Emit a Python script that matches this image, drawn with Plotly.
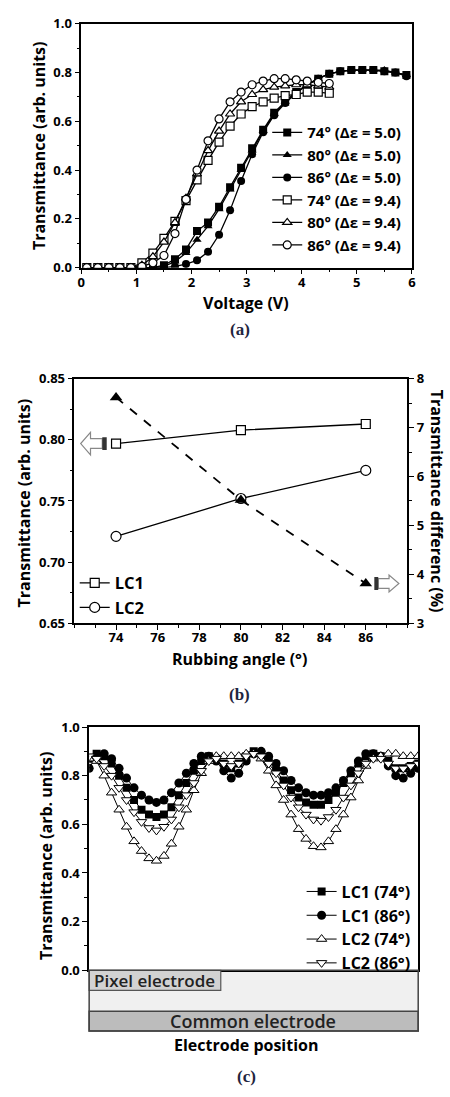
import plotly.graph_objects as go

W, H = 450, 1097

# ---------------- (a) Voltage-transmittance ----------------
volt_lc1 = [0.1, 0.3, 0.5, 0.7, 0.9, 1.1, 1.3, 1.5, 1.7, 1.9, 2.1, 2.3, 2.5, 2.7, 2.9,
            3.1, 3.3, 3.5, 3.7, 3.9, 4.1, 4.3, 4.5, 4.7, 4.9, 5.1, 5.3, 5.5, 5.7, 5.9]
t_74_de50 = [0, 0, 0, 0, 0, 0, 0, 0.01, 0.035, 0.075, 0.15, 0.185, 0.25, 0.33, 0.41,
             0.49, 0.565, 0.635, 0.68, 0.72, 0.75, 0.775, 0.795, 0.805, 0.81, 0.81, 0.81, 0.805, 0.80, 0.79]
t_80_de50 = [0, 0, 0, 0, 0, 0, 0, 0.005, 0.025, 0.06, 0.115, 0.17, 0.24, 0.32, 0.40,
             0.48, 0.56, 0.63, 0.68, 0.72, 0.75, 0.775, 0.795, 0.805, 0.81, 0.81, 0.81, 0.81, 0.80, 0.79]
t_86_de50 = [0, 0, 0, 0, 0, 0, 0, 0, 0.005, 0.015, 0.03, 0.065, 0.135, 0.235, 0.355,
             0.465, 0.555, 0.625, 0.675, 0.715, 0.75, 0.775, 0.795, 0.805, 0.81, 0.81, 0.81, 0.805, 0.80, 0.785]

volt_lc2 = [0.1, 0.3, 0.5, 0.7, 0.9, 1.1, 1.3, 1.5, 1.7, 1.9, 2.1, 2.3, 2.5, 2.7, 2.9,
            3.1, 3.3, 3.5, 3.7, 3.9, 4.1, 4.3, 4.5]
t_74_de94 = [0, 0, 0, 0, 0, 0.02, 0.06, 0.12, 0.19, 0.275, 0.36, 0.44, 0.515, 0.58, 0.63,
             0.66, 0.68, 0.695, 0.705, 0.71, 0.72, 0.72, 0.715]
t_80_de94 = [0, 0, 0, 0, 0, 0.01, 0.045, 0.105, 0.185, 0.285, 0.385, 0.48, 0.56, 0.63, 0.68,
             0.71, 0.73, 0.74, 0.745, 0.75, 0.75, 0.745, 0.74]
t_86_de94 = [0, 0, 0, 0, 0, 0.005, 0.02, 0.05, 0.14, 0.28, 0.40, 0.52, 0.61, 0.68, 0.72,
             0.75, 0.765, 0.775, 0.775, 0.77, 0.765, 0.76, 0.755]

# ---------------- (b) Rubbing angle ----------------
angles = [74, 80, 86]
lc1_trans = [0.797, 0.808, 0.813]
lc2_trans = [0.721, 0.752, 0.775]
trans_diff = [7.62, 5.52, 3.81]

# ---------------- (c) Electrode position ----------------
position = [0, 1, 2, 3, 4, 5, 6, 7, 8, 9, 10, 11, 12, 13, 14, 15, 16, 17, 18, 19, 20, 21, 22,
            23, 24, 25, 26, 27, 28, 29, 30, 31, 32, 33, 34, 35, 36, 37, 38, 39, 40, 41, 42, 43, 44]
lc1_74 = [0.87, 0.89, 0.88, 0.85, 0.80, 0.75, 0.70, 0.66, 0.64, 0.63, 0.64, 0.67, 0.72, 0.77, 0.82,
          0.86, 0.88, 0.87, 0.85, 0.83, 0.85, 0.88, 0.90, 0.89, 0.86, 0.82, 0.78, 0.74, 0.71, 0.69,
          0.68, 0.68, 0.70, 0.73, 0.77, 0.81, 0.85, 0.88, 0.89, 0.88, 0.86, 0.83, 0.83, 0.84, 0.85]
lc1_86 = [0.83, 0.88, 0.89, 0.87, 0.83, 0.79, 0.75, 0.72, 0.70, 0.69, 0.70, 0.73, 0.77, 0.81, 0.85,
          0.88, 0.88, 0.86, 0.82, 0.79, 0.81, 0.86, 0.89, 0.90, 0.88, 0.85, 0.82, 0.78, 0.75, 0.73,
          0.72, 0.72, 0.73, 0.75, 0.78, 0.82, 0.86, 0.89, 0.89, 0.88, 0.84, 0.80, 0.79, 0.81, 0.83]
lc2_74 = [0.87, 0.86, 0.80, 0.73, 0.66, 0.59, 0.53, 0.49, 0.46, 0.45, 0.47, 0.52, 0.59, 0.66, 0.74,
          0.81, 0.86, 0.88, 0.88, 0.88, 0.88, 0.89, 0.89, 0.87, 0.82, 0.76, 0.70, 0.64, 0.58, 0.54,
          0.51, 0.505, 0.53, 0.58, 0.64, 0.71, 0.78, 0.84, 0.87, 0.88, 0.89, 0.89, 0.88, 0.88, 0.88]
lc2_86 = [0.88, 0.87, 0.84, 0.80, 0.75, 0.70, 0.65, 0.61, 0.585, 0.575, 0.59, 0.62, 0.67, 0.72, 0.77,
          0.82, 0.86, 0.87, 0.85, 0.84, 0.85, 0.88, 0.89, 0.88, 0.85, 0.81, 0.76, 0.71, 0.67, 0.64,
          0.62, 0.615, 0.63, 0.66, 0.71, 0.76, 0.81, 0.85, 0.87, 0.87, 0.85, 0.83, 0.83, 0.84, 0.85]


def px(x):
    return x / W


def py(y):
    return 1 - y / H


BOLD = dict(family="Open Sans", color="black", weight="bold")
LINE = dict(color="black", width=1.3)

fig = go.Figure()

# (a) traces
filled = dict(color="black", size=8)
hollow = dict(color="white", size=8, line=dict(color="black", width=1.2))
for v, t, name, sym, mk in [
    (volt_lc1, t_74_de50, "74° (Δε = 5.0)", "square", filled),
    (volt_lc1, t_80_de50, "80° (Δε = 5.0)", "triangle-up", filled),
    (volt_lc1, t_86_de50, "86° (Δε = 5.0)", "circle", filled),
    (volt_lc2, t_74_de94, "74° (Δε = 9.4)", "square", hollow),
    (volt_lc2, t_80_de94, "80° (Δε = 9.4)", "triangle-up", hollow),
    (volt_lc2, t_86_de94, "86° (Δε = 9.4)", "circle", hollow),
]:
    fig.add_trace(go.Scatter(x=v, y=t, name=name, mode="lines+markers", line=LINE,
                             marker=dict(symbol=sym, **mk), xaxis="x", yaxis="y",
                             legend="legend"))

# (b) traces
fig.add_trace(go.Scatter(x=angles, y=lc1_trans, name="LC1", mode="lines+markers", line=LINE,
                         marker=dict(symbol="square", size=9, color="white",
                                     line=dict(color="black", width=1.2)),
                         xaxis="x2", yaxis="y2", legend="legend2"))
fig.add_trace(go.Scatter(x=angles, y=lc2_trans, name="LC2", mode="lines+markers", line=LINE,
                         marker=dict(symbol="circle", size=10, color="white",
                                     line=dict(color="black", width=1.2)),
                         xaxis="x2", yaxis="y2", legend="legend2"))
fig.add_trace(go.Scatter(x=angles, y=trans_diff, name="Transmittance difference",
                         mode="lines+markers", line=dict(color="black", width=1.8, dash="dash"),
                         marker=dict(symbol="triangle-up", size=11, color="black"),
                         xaxis="x2", yaxis="y3", showlegend=False))

# (c) traces
for y, name, sym, mk in [
    (lc1_74, "LC1 (74°)", "square", dict(color="black", size=8)),
    (lc1_86, "LC1 (86°)", "circle", dict(color="black", size=9)),
    (lc2_74, "LC2 (74°)", "triangle-up", dict(color="white", size=9, line=dict(color="black", width=1))),
    (lc2_86, "LC2 (86°)", "triangle-down", dict(color="white", size=9, line=dict(color="black", width=1))),
]:
    fig.add_trace(go.Scatter(x=position, y=y, name=name, mode="lines+markers",
                             line=dict(color="black", width=1),
                             marker=dict(symbol=sym, **mk), xaxis="x3", yaxis="y4",
                             legend="legend3"))

axis_common = dict(showline=True, linecolor="black", linewidth=1.5, mirror=True,
                   showgrid=False, zeroline=False, ticks="outside", ticklen=5, tickwidth=1.3,
                   tickcolor="black", tickfont=dict(size=13, **BOLD))

fig.update_layout(
    width=W, height=H, margin=dict(l=0, r=0, t=0, b=0),
    paper_bgcolor="white", plot_bgcolor="white",
    xaxis=dict(domain=[px(78.7), px(415.3)], range=[0, 6], dtick=1, anchor="y",
               ticklabelstandoff=-3,
               minor=dict(dtick=0.5, ticks="outside", ticklen=3, tickcolor="black"), **axis_common),
    yaxis=dict(domain=[py(263), py(15)], range=[0, 1], dtick=0.2, tickformat=".1f", anchor="x",
               minor=dict(dtick=0.1, ticks="outside", ticklen=3, tickcolor="black"), **axis_common),
    xaxis2=dict(domain=[px(71.7), px(410.7)], range=[72, 88], anchor="y2",
                tickvals=[74, 76, 78, 80, 82, 84, 86], ticklabelstandoff=-3,
                minor=dict(dtick=1, tick0=72, ticks="outside", ticklen=3, tickcolor="black"),
                **axis_common),
    yaxis2=dict(domain=[py(624.3), py(376)], range=[0.65, 0.85], dtick=0.05, tickformat=".2f",
                anchor="x2",
                minor=dict(dtick=0.025, ticks="outside", ticklen=3, tickcolor="black"),
                **axis_common),
    yaxis3=dict(overlaying="y2", side="right", range=[3, 8], dtick=1, anchor="x2",
                minor=dict(dtick=0.5, ticks="outside", ticklen=3, tickcolor="black"),
                **axis_common),
    xaxis3=dict(domain=[px(86.7), px(421.7)], range=[0, 44], anchor="y4",
                showline=True, linecolor="black", linewidth=1.8, mirror=True,
                showgrid=False, zeroline=False, showticklabels=False, ticks=""),
    yaxis4=dict(domain=[py(977.3), py(730)], range=[0, 1], anchor="x3",
                tickvals=[0, 0.2, 0.4, 0.6, 0.8, 1.0], tickformat=".1f",
                minor=dict(tickvals=[0.1, 0.3, 0.5, 0.7, 0.9], ticks="outside", ticklen=3,
                           tickcolor="black"),
                **axis_common),
    legend=dict(x=px(268), y=py(109), xanchor="left", yanchor="top",
                bgcolor="rgba(0,0,0,0)", font=dict(size=15, **BOLD), itemwidth=30,
                tracegroupgap=0),
    legend2=dict(x=px(72), y=py(566), xanchor="left", yanchor="top",
                 bgcolor="rgba(0,0,0,0)", font=dict(size=16.5, **BOLD), itemwidth=30),
    legend3=dict(x=px(303), y=py(880), xanchor="left", yanchor="top",
                 bgcolor="rgba(0,0,0,0)", font=dict(size=16, **BOLD), itemwidth=30),
)

# axis titles and panel labels
title_font = dict(size=16, **BOLD)
label_font = dict(size=17, family="Liberation Serif", color="#1f2540", weight="bold")
annots = [
    dict(text="Transmittance (arb. units)", x=px(35), y=py(139), textangle=-90, font=title_font),
    dict(text="Voltage (V)", x=px(246), y=py(299), font=title_font),
    dict(text="(a)", x=px(240), y=py(326), font=label_font),
    dict(text="Transmittance (arb. units)", x=px(20), y=py(502), textangle=-90, font=title_font),
    dict(text="Transmittance differenc (%)", x=px(441), y=py(500), textangle=90, font=title_font),
    dict(text="Rubbing angle (°)", x=px(240), y=py(661), font=title_font),
    dict(text="(b)", x=px(240), y=py(697), font=label_font),
    dict(text="Transmittance (arb. units)", x=px(43), y=py(861), textangle=-90, font=title_font),
    dict(text="Electrode position", x=px(247), y=py(1053), font=title_font),
    dict(text="(c)", x=px(247), y=py(1085), font=label_font),
]
for a in annots:
    fig.add_annotation(xref="paper", yref="paper", showarrow=False, xanchor="center",
                       yanchor="middle", **a)

# electrode structure under panel (c), in page pixels converted to paper units
L, R = 86.7, 421.7
fig.add_shape(type="rect", xref="paper", yref="paper", x0=px(L), x1=px(R),
              y0=py(1019), y1=py(977.3), fillcolor="#f0f0f0", line=dict(width=0), layer="below")
fig.add_shape(type="rect", xref="paper", yref="paper", x0=px(L), x1=px(220.7),
              y0=py(997.7), y1=py(977.3), fillcolor="#d2d2d2", line=dict(color="#555555", width=1.2))
fig.add_shape(type="rect", xref="paper", yref="paper", x0=px(L), x1=px(R),
              y0=py(1039), y1=py(1019), fillcolor="#bcbcbc", line=dict(color="#444444", width=1.5))
fig.add_shape(type="rect", xref="paper", yref="paper", x0=px(L), x1=px(R),
              y0=py(1039), y1=py(977.3), fillcolor="rgba(0,0,0,0)", line=dict(color="#444444", width=1.5))
fig.add_annotation(xref="paper", yref="paper", x=px(153.7), y=py(988), text="Pixel electrode",
                   showarrow=False, xanchor="center", yanchor="middle",
                   font=dict(size=17, family="Open Sans", color="#222222", weight=600))
fig.add_annotation(xref="paper", yref="paper", x=px(254), y=py(1029), text="Common electrode",
                   showarrow=False, xanchor="center", yanchor="middle",
                   font=dict(size=18, family="Open Sans", color="#222222", weight=600))

# hollow block arrows in panel (b), anchored on the first / last data points
ux = 16 / 339.0          # x units per pixel
uyl = 0.2 / 248.3        # left-axis units per pixel
uyr = 5 / 248.3          # right-axis units per pixel
ax, ay = angles[0], lc1_trans[0]
left_path = (f"M {ax-14*ux},{ay+5*uyl} L {ax-26*ux},{ay+5*uyl} L {ax-26*ux},{ay+11.5*uyl} "
             f"L {ax-36*ux},{ay} L {ax-26*ux},{ay-11.5*uyl} L {ax-26*ux},{ay-5*uyl} "
             f"L {ax-14*ux},{ay-5*uyl} Z")
fig.add_shape(type="path", xref="x2", yref="y2", path=left_path, fillcolor="white",
              line=dict(color="#888888", width=1.2))
fig.add_shape(type="rect", xref="x2", yref="y2", x0=ax-14*ux, x1=ax-9.5*ux,
              y0=ay-6.5*uyl, y1=ay+6.5*uyl, fillcolor="#333333", line=dict(width=0))

bx, by = angles[-1], trans_diff[-1]
right_path = (f"M {bx+12.7*ux},{by+5*uyr} L {bx+23.7*ux},{by+5*uyr} L {bx+23.7*ux},{by+8.5*uyr} "
              f"L {bx+33.7*ux},{by} L {bx+23.7*ux},{by-8.5*uyr} L {bx+23.7*ux},{by-5*uyr} "
              f"L {bx+12.7*ux},{by-5*uyr} Z")
fig.add_shape(type="path", xref="x2", yref="y3", path=right_path, fillcolor="white",
              line=dict(color="#888888", width=1.2))
fig.add_shape(type="rect", xref="x2", yref="y3", x0=bx+8.7*ux, x1=bx+12.7*ux,
              y0=by-6.5*uyr, y1=by+6.5*uyr, fillcolor="#333333", line=dict(width=0))

fig.write_html("out.html")
